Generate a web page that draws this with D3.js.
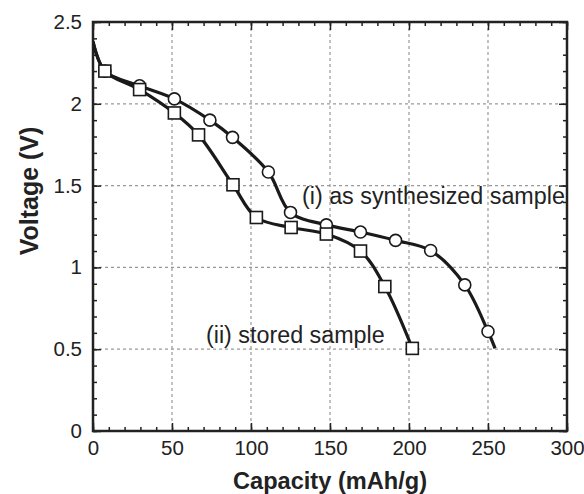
<!DOCTYPE html>
<html><head><meta charset="utf-8">
<script src="https://cdn.jsdelivr.net/npm/d3@7"></script>
<style>body{margin:0;background:#fff}svg{display:block}text{font-family:"Liberation Sans",Arial,sans-serif}</style>
</head><body><svg id="c" width="584" height="494"></svg>
<script>
const xTicks = [0,50,100,150,200,250,300];
const yTicks = [0,0.5,1,1.5,2,2.5];
const seriesICap = [0,7.5,29.5,51.5,74,88.3,111,125,147.7,169.3,191.5,213.7,235.3,250,254.5];
const seriesIVolt = [2.38,2.2,2.11,2.03,1.9,1.795,1.583,1.336,1.26,1.216,1.165,1.103,0.893,0.608,0.505];
const seriesIMarked = [0,1,1,1,1,1,1,1,1,1,1,1,1,1,0];
const seriesIICap = [0,7.5,29.5,51.5,66.8,88.6,103.4,125.4,147.7,169.3,184.7,202.1];
const seriesIIVolt = [2.38,2.2,2.087,1.944,1.81,1.505,1.305,1.244,1.204,1.10,0.883,0.505];
const seriesIIMarked = [0,1,1,1,1,1,1,1,1,1,1,1];
const labelI = "(i) as synthesized sample";
const labelII = "(ii) stored sample";

const svg = d3.select("#c");
const L=93, R=567, T=22, B=431;
const x = d3.scaleLinear().domain([0,300]).range([L,R]);
const y = d3.scaleLinear().domain([0,2.5]).range([B,T]);

// grid
const g = svg.append("g");
xTicks.slice(1,-1).forEach(v=>g.append("line").attr("x1",x(v)).attr("x2",x(v)).attr("y1",T).attr("y2",B)
  .attr("stroke","#999").attr("stroke-width",1.2).attr("stroke-dasharray","3,3"));
yTicks.slice(1,-1).forEach(v=>g.append("line").attr("x1",L).attr("x2",R).attr("y1",y(v)).attr("y2",y(v))
  .attr("stroke","#999").attr("stroke-width",1.2).attr("stroke-dasharray","3,3"));

// axes with inward ticks
const minorX = d3.range(0,301,10), minorY = d3.range(0,2.501,0.1);
const axB = d3.axisBottom(x).tickValues(xTicks).tickSize(-8).tickPadding(9).tickFormat(d3.format("d"));
const axL = d3.axisLeft(y).tickValues(yTicks).tickSize(-8).tickPadding(11).tickFormat(d=>String(d));
const axT = d3.axisTop(x).tickValues(xTicks).tickSize(-8).tickFormat("");
const axR = d3.axisRight(y).tickValues(yTicks).tickSize(-8).tickFormat("");
function mk(sel){sel.selectAll("path").remove();sel.selectAll("line").attr("stroke","#222").attr("stroke-width",1.5);
  sel.selectAll("text").attr("font-size",20.5).attr("fill","#222").style("font-family","Liberation Sans, Arial, sans-serif");}
svg.append("g").attr("transform",`translate(0,${B})`).call(axB).call(mk);
svg.append("g").attr("transform",`translate(${L},0)`).call(axL).call(mk);
svg.append("g").attr("transform",`translate(0,${T})`).call(axT).call(mk);
svg.append("g").attr("transform",`translate(${R},0)`).call(axR).call(mk);
svg.append("g").attr("transform",`translate(0,${B})`).call(d3.axisBottom(x).tickValues(minorX).tickSize(-4).tickFormat("")).call(mk);
svg.append("g").attr("transform",`translate(0,${T})`).call(d3.axisTop(x).tickValues(minorX).tickSize(-4).tickFormat("")).call(mk);
svg.append("g").attr("transform",`translate(${L},0)`).call(d3.axisLeft(y).tickValues(minorY).tickSize(-4).tickFormat("")).call(mk);
svg.append("g").attr("transform",`translate(${R},0)`).call(d3.axisRight(y).tickValues(minorY).tickSize(-4).tickFormat("")).call(mk);
svg.append("rect").attr("x",L).attr("y",T).attr("width",R-L).attr("height",B-T).attr("fill","none").attr("stroke","#222").attr("stroke-width",2.5);

// lines
const line = d3.line().x(d=>x(d[0])).y(d=>y(d[1])).curve(d3.curveCatmullRom.alpha(0.5));
const dI = seriesICap.map((c,i)=>[c,seriesIVolt[i],seriesIMarked[i]]);
const dII = seriesIICap.map((c,i)=>[c,seriesIIVolt[i],seriesIIMarked[i]]);
svg.append("clipPath").attr("id","cp").append("rect").attr("x",L).attr("y",T).attr("width",R-L).attr("height",B-T);
svg.append("path").attr("d",line(dI)).attr("fill","none").attr("stroke","#1a1a1a").attr("stroke-width",3.2).attr("clip-path","url(#cp)");
svg.append("path").attr("d",line(dII)).attr("fill","none").attr("stroke","#1a1a1a").attr("stroke-width",3.2).attr("clip-path","url(#cp)");
svg.selectAll(".ci").data(dI.filter(d=>d[2])).enter().append("circle")
  .attr("cx",d=>x(d[0])).attr("cy",d=>y(d[1])).attr("r",6).attr("fill","#fff").attr("stroke","#1a1a1a").attr("stroke-width",1.6);
svg.selectAll(".sq").data(dII.filter(d=>d[2])).enter().append("rect")
  .attr("x",d=>x(d[0])-6).attr("y",d=>y(d[1])-6).attr("width",12).attr("height",12).attr("fill","#fff").attr("stroke","#1a1a1a").attr("stroke-width",1.6);

// labels
svg.append("text").attr("x",302).attr("y",204).attr("font-size",23.3).attr("fill","#222").text(labelI);
svg.append("text").attr("x",206).attr("y",343).attr("font-size",23.3).attr("fill","#222").text(labelII);
svg.append("text").attr("x",330).attr("y",489).attr("text-anchor","middle").attr("font-size",23.6).attr("font-weight","bold").attr("fill","#222").text("Capacity (mAh/g)");
svg.append("text").attr("transform",`translate(38,191) rotate(-90)`).attr("text-anchor","middle").attr("font-size",25).attr("font-weight","bold").attr("fill","#222").text("Voltage (V)");
</script></body></html>
